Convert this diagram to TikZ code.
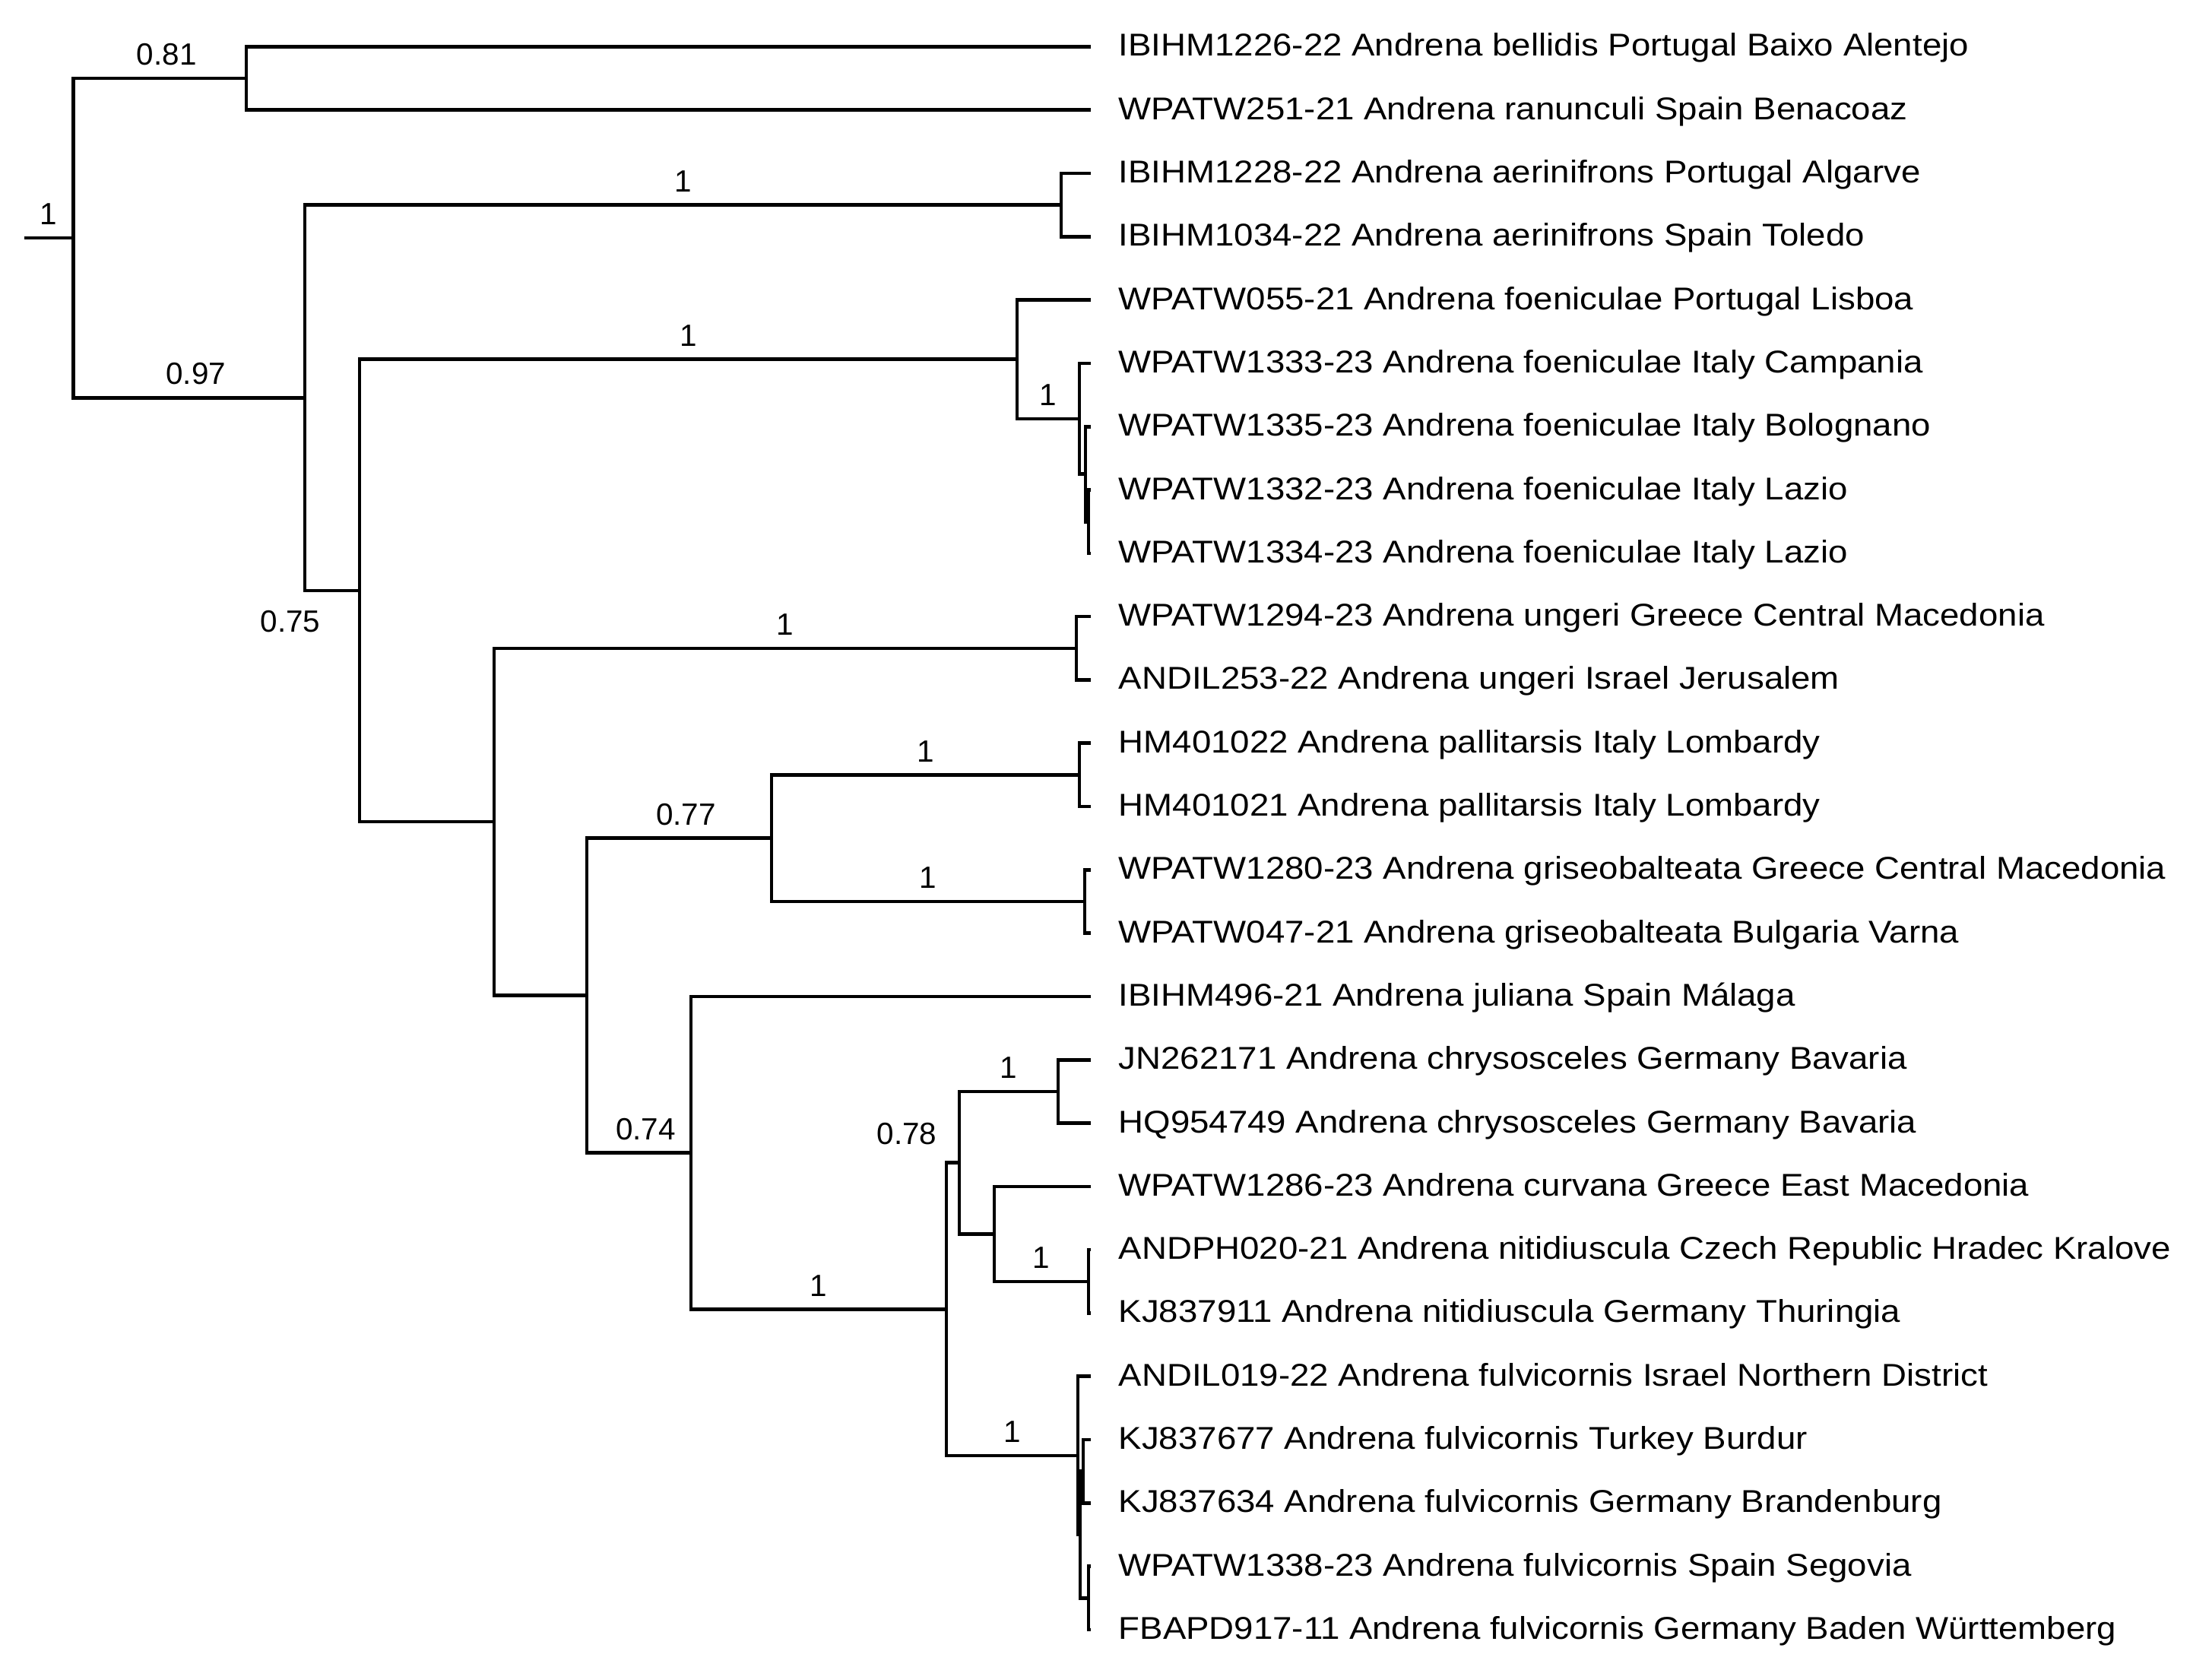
\documentclass[tikz,border=0pt]{standalone}
\usepackage{fontspec}
\setmainfont{Liberation Sans}
\newfontfamily\tipfont{Liberation Sans}[FakeStretch=1.1]

\tikzset{
  branch/.style={line width=1.3pt, black},
  supp/.style={above, pos=0.75, inner sep=4.2pt, font=\fontsize{11.5}{13}\selectfont},
  taxon/.style={anchor=base west, inner sep=0pt, yshift=-1.25mm, font=\tipfont\fontsize{11.8}{14}\selectfont},
}

\begin{document}
\begin{tikzpicture}[x=1cm, y=-0.833cm]
    \fill[white] (0,-0.738) rectangle (29.10,25.636);
    \useasboundingbox (0,-0.738) rectangle (29.10,25.636);

    % tips and their names
    \foreach \i/\lab in {%
      0/{IBIHM1226-22 Andrena bellidis Portugal Baixo Alentejo},
      1/{WPATW251-21 Andrena ranunculi Spain Benacoaz},
      2/{IBIHM1228-22 Andrena aerinifrons Portugal Algarve},
      3/{IBIHM1034-22 Andrena aerinifrons Spain Toledo},
      4/{WPATW055-21 Andrena foeniculae Portugal Lisboa},
      5/{WPATW1333-23 Andrena foeniculae Italy Campania},
      6/{WPATW1335-23 Andrena foeniculae Italy Bolognano},
      7/{WPATW1332-23 Andrena foeniculae Italy Lazio},
      8/{WPATW1334-23 Andrena foeniculae Italy Lazio},
      9/{WPATW1294-23 Andrena ungeri Greece Central Macedonia},
      10/{ANDIL253-22 Andrena ungeri Israel Jerusalem},
      11/{HM401022 Andrena pallitarsis Italy Lombardy},
      12/{HM401021 Andrena pallitarsis Italy Lombardy},
      13/{WPATW1280-23 Andrena griseobalteata Greece Central Macedonia},
      14/{WPATW047-21 Andrena griseobalteata Bulgaria Varna},
      15/{IBIHM496-21 Andrena juliana Spain Málaga},
      16/{JN262171 Andrena chrysosceles Germany Bavaria},
      17/{HQ954749 Andrena chrysosceles Germany Bavaria},
      18/{WPATW1286-23 Andrena curvana Greece East Macedonia},
      19/{ANDPH020-21 Andrena nitidiuscula Czech Republic Hradec Kralove},
      20/{KJ837911 Andrena nitidiuscula Germany Thuringia},
      21/{ANDIL019-22 Andrena fulvicornis Israel Northern District},
      22/{KJ837677 Andrena fulvicornis Turkey Burdur},
      23/{KJ837634 Andrena fulvicornis Germany Brandenburg},
      24/{WPATW1338-23 Andrena fulvicornis Spain Segovia},
      25/{FBAPD917-11 Andrena fulvicornis Germany Baden Württemberg}}{%
      \coordinate (t\i) at (14.35,\i);
      \node[taxon] (l\i) at (14.71,\i) {\lab};}

    % inner nodes of the tree
    \coordinate (stub) at (0.316,3.02);
    \coordinate (root) at (0.965,3.02);
    \coordinate (n81) at (3.24,0.5);
    \coordinate (n97) at (4.01,5.545);
    \coordinate (aer) at (13.96,2.5);
    \coordinate (n75) at (4.73,8.59);
    \coordinate (foe) at (13.38,4.9375);
    \coordinate (foeA) at (14.20,5.875);
    \coordinate (foeB) at (14.28,6.75);
    \coordinate (foeC) at (14.32,7.5);
    \coordinate (n350) at (6.50,12.24);
    \coordinate (ung) at (14.16,9.5);
    \coordinate (n416) at (7.72,14.98);
    \coordinate (n77) at (10.15,12.5);
    \coordinate (pal) at (14.20,11.5);
    \coordinate (gri) at (14.27,13.5);
    \coordinate (n74) at (9.09,17.47);
    \coordinate (n669) at (12.45,19.94);
    \coordinate (n78) at (12.62,17.625);
    \coordinate (chr) at (13.92,16.5);
    \coordinate (cur) at (13.08,18.75);
    \coordinate (nit) at (14.32,19.5);
    \coordinate (fulA) at (14.18,22.25);
    \coordinate (fulB) at (14.21,23.5);
    \coordinate (fulC) at (14.25,22.5);
    \coordinate (fulD) at (14.32,24.5);

    % branches with support values
    \draw[branch] (stub) -- node[supp, pos=0.5] (sRoot) {1} (root);
    \draw[branch] (root) |- node[supp, xshift=0.9mm] (s81) {0.81} (n81);
    \draw[branch] (root) |- node[supp, xshift=0.9mm] (s97) {0.97} (n97);
    \draw[branch] (n97) |- node[supp] (sAer) {1} (aer);
    \draw[branch] (n75) |- node[supp] (sFoe) {1} (foe);
    \draw[branch] (foe) |- node[supp] (sFoeA) {1} (foeA);
    \draw[branch] (n350) |- node[supp] (sUng) {1} (ung);
    \draw[branch] (n416) |- node[supp, xshift=0.9mm] (s77) {0.77} (n77);
    \draw[branch] (n77) |- node[supp] (sPal) {1} (pal);
    \draw[branch] (n77) |- node[supp] (sGri) {1} (gri);
    \draw[branch] (n416) |- node[supp, xshift=0.9mm] (s74) {0.74} (n74);
    \draw[branch] (n74) |- node[supp] (s669) {1} (n669);
    \draw[branch] (n78) |- node[supp] (sChr) {1} (chr);
    \draw[branch] (cur) |- node[supp] (sNit) {1} (nit);
    \draw[branch] (n669) |- node[supp] (sFul) {1} (fulA);
    \node[font=\fontsize{11.5}{13}\selectfont] (s75) at (3.82,9.08) {0.75};
    \node[font=\fontsize{11.5}{13}\selectfont] (s78) at (11.93,17.17) {0.78};

    % the other branches
    \foreach \p/\c in {n81/t0, n81/t1, aer/t2, aer/t3, n97/n75, foe/t4,
        foeA/t5, foeA/foeB, foeB/t6, foeB/foeC, foeC/t7, foeC/t8,
        n75/n350, n350/n416, ung/t9, ung/t10, pal/t11, pal/t12,
        gri/t13, gri/t14, n74/t15, n669/n78, n78/cur, chr/t16, chr/t17,
        cur/t18, nit/t19, nit/t20, fulA/t21, fulA/fulB, fulB/fulC,
        fulB/fulD, fulC/t22, fulC/t23, fulD/t24, fulD/t25}{%
      \draw[branch] (\p) |- (\c);}
  \end{tikzpicture}
\end{document}
